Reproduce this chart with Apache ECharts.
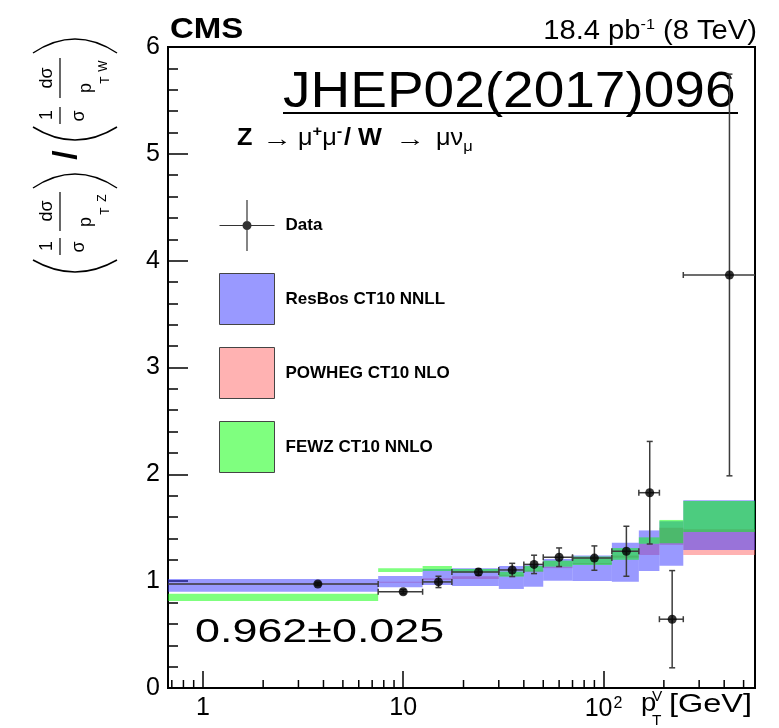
<!DOCTYPE html>
<html>
<head>
<meta charset="utf-8">
<script src="https://cdn.jsdelivr.net/npm/echarts@6/dist/echarts.min.js"></script>
<style>
  html, body { margin: 0; padding: 0; background: #fff; }
  #chart { width: 779px; height: 728px; }
</style>
</head>
<body>
<div id="chart"></div>
<script>
// pT bins [GeV]
var binLo = [0, 7.5, 12.5, 17.5, 30, 40, 50, 70, 110, 150, 190, 250];
var binHi = [7.5, 12.5, 17.5, 30, 40, 50, 70, 110, 150, 190, 250, 600];
var binCenter = [3.75, 10, 15, 23.75, 35, 45, 60, 90, 130, 170, 220, 425];

// Measured Z/W normalised ratio and its uncertainty
var dataRatio = [0.974, 0.901, 0.993, 1.085, 1.105, 1.157, 1.224, 1.216, 1.28, 1.828, 0.644, 3.866];
var dataErr   = [0.015, 0.02, 0.053, 0.03, 0.062, 0.086, 0.087, 0.114, 0.234, 0.48, 0.455, 1.88];

// Theory uncertainty bands (low, high)
var resbosLo = [0.90, 0.943, 0.964, 0.955, 0.927, 0.948, 1.004, 1.002, 0.995, 1.095, 1.145, 1.292];
var resbosHi = [1.02, 1.048, 1.114, 1.12, 1.142, 1.149, 1.208, 1.24, 1.36, 1.475, 1.56, 1.757];
var powhegLo = [0.968, 0.985, 1.011, 1.02, 1.05, 1.09, 1.122, 1.16, 1.22, 1.245, 1.34, 1.245];
var powhegHi = [0.978, 0.995, 1.027, 1.045, 1.06, 1.10, 1.135, 1.17, 1.24, 1.35, 1.50, 1.486];
var fewzLo   = [0.815, 1.086, 1.095, 1.08, 1.042, 1.089, 1.136, 1.152, 1.20, 1.35, 1.355, 1.46];
var fewzHi   = [0.883, 1.12, 1.142, 1.115, 1.089, 1.142, 1.192, 1.23, 1.31, 1.41, 1.573, 1.75];

// Axis settings
var X_MIN = 0.67, X_MAX = 570;
var Y_MIN = 0, Y_MAX = 6;
var xMinorTicks = [0.7, 0.8, 0.9, 2, 3, 4, 5, 6, 7, 8, 9, 20, 30, 40, 50, 60, 70, 80, 90, 200, 300, 400, 500];

var FONT = "'Liberation Sans', Arial, Helvetica, sans-serif";

var chart = echarts.init(document.getElementById('chart'), null, { renderer: 'canvas' });

function clampX(v) { return Math.min(Math.max(v, X_MIN), X_MAX); }

function bandSeries(name, lo, hi, color) {
  return {
    type: 'custom',
    name: name,
    coordinateSystem: 'cartesian2d',
    silent: true,
    clip: true,
    itemStyle: { color: color },
    encode: { x: [0, 1], y: [2, 3] },
    data: binLo.map(function (b, i) { return [clampX(b), clampX(binHi[i]), lo[i], hi[i]]; }),
    renderItem: function (params, api) {
      var p0 = api.coord([api.value(0), api.value(3)]);
      var p1 = api.coord([api.value(1), api.value(2)]);
      return {
        type: 'rect',
        shape: { x: p0[0], y: p0[1], width: p1[0] - p0[0], height: p1[1] - p0[1] },
        style: { fill: color }
      };
    }
  };
}

var errColor = '#3c3c3c';
var errSeries = {
  type: 'custom',
  name: 'errors',
  coordinateSystem: 'cartesian2d',
  silent: true,
  clip: true,
  z: 5,
  encode: { x: 0, y: 1 },
  data: binCenter.map(function (x, i) {
    return [x, dataRatio[i], dataErr[i], binLo[i], binHi[i]];
  }),
  renderItem: function (params, api) {
    var x = api.value(0), y = api.value(1), e = api.value(2);
    var lo = api.value(3), hi = api.value(4);
    var c = api.coord([x, y]);
    var pl = api.coord([clampX(lo), y]);
    var ph = api.coord([clampX(hi), y]);
    var pt = api.coord([x, y + e]);
    var pb = api.coord([x, y - e]);
    var st = { stroke: errColor, lineWidth: 1.5 };
    var cap = 3;
    var children = [
      { type: 'line', shape: { x1: pl[0], y1: c[1], x2: ph[0], y2: c[1] }, style: st },
      { type: 'line', shape: { x1: c[0], y1: pt[1], x2: c[0], y2: pb[1] }, style: st },
      { type: 'line', shape: { x1: c[0] - cap, y1: pt[1], x2: c[0] + cap, y2: pt[1] }, style: st },
      { type: 'line', shape: { x1: c[0] - cap, y1: pb[1], x2: c[0] + cap, y2: pb[1] }, style: st }
    ];
    if (lo > X_MIN) {
      children.push({ type: 'line', shape: { x1: pl[0], y1: c[1] - cap, x2: pl[0], y2: c[1] + cap }, style: st });
    }
    if (hi < X_MAX) {
      children.push({ type: 'line', shape: { x1: ph[0], y1: c[1] - cap, x2: ph[0], y2: c[1] + cap }, style: st });
    }
    return { type: 'group', children: children };
  }
};

var minorTickSeries = {
  type: 'custom',
  name: 'xminor',
  coordinateSystem: 'cartesian2d',
  silent: true,
  z: 10,
  encode: { x: 0, y: 1 },
  data: xMinorTicks.map(function (v) { return [v, Y_MIN]; }),
  renderItem: function (params, api) {
    var p = api.coord([api.value(0), api.value(1)]);
    return {
      type: 'line',
      shape: { x1: p[0], y1: p[1], x2: p[0], y2: p[1] - 8 },
      style: { stroke: '#000', lineWidth: 1.5 }
    };
  }
};

var dataIcon = 'path://M0 24.9H55V26.1H0Z M26.9 0H28.1V51H26.9Z M32 25.5A4.5 4.5 0 1 1 23 25.5A4.5 4.5 0 1 1 32 25.5Z';

function rotText(text, x, y, size, weight) {
  return {
    type: 'text', x: x, y: y, rotation: Math.PI / 2, silent: true,
    style: {
      text: text, font: (weight || 'normal') + ' ' + size + 'px ' + FONT, fill: '#000',
      align: 'center', verticalAlign: 'middle', textAlign: 'center', textVerticalAlign: 'middle'
    }
  };
}
function vbar(x, y1, y2) {
  return { type: 'line', silent: true, shape: { x1: x, y1: y1, x2: x, y2: y2 }, style: { stroke: '#000', lineWidth: 1.2 } };
}
function paren(yEnd, yApex) {
  return {
    type: 'bezierCurve', silent: true,
    shape: { x1: 33, y1: yEnd, x2: 117, y2: yEnd, cpx1: 75, cpy1: 2 * yApex - yEnd },
    style: { stroke: '#000', lineWidth: 1.5, fill: null }
  };
}
function plainText(text, x, y, size, weight, align, scaleX) {
  return {
    type: 'text', x: x, y: y, silent: true, scaleX: scaleX || 1,
    style: {
      text: text, font: (weight || 'normal') + ' ' + size + 'px ' + FONT, fill: '#000',
      align: align || 'left', verticalAlign: 'middle', textAlign: align || 'left', textVerticalAlign: 'middle'
    }
  };
}
var scriptRich = {
  n: { fontSize: 23, fontFamily: FONT, lineHeight: 30 },
  sup: { fontSize: 15, fontWeight: 'bold', fontFamily: FONT, verticalAlign: 'top', lineHeight: 30, padding: [0, 0, 12, 0] },
  sub: { fontSize: 15, fontFamily: FONT, verticalAlign: 'bottom', lineHeight: 30, padding: [12, 0, 0, 0] }
};
function richText(text, x, y, scaleX) {
  return {
    type: 'text', x: x, y: y, silent: true, scaleX: scaleX || 1,
    style: {
      text: text, align: 'left', verticalAlign: 'middle', textAlign: 'left', textVerticalAlign: 'middle',
      font: 'normal 23px ' + FONT, fill: '#000', rich: scriptRich
    }
  };
}

var graphics = [
  // header
  plainText('CMS', 170, 30, 30, 'bold', 'left', 1.1),
  {
    type: 'text', x: 757, y: 32, silent: true, scaleX: 1.08,
    style: {
      text: '18.4 pb{sup|-1} (8 TeV)', align: 'right', verticalAlign: 'middle',
      textAlign: 'right', textVerticalAlign: 'middle',
      font: 'normal 27px ' + FONT, fill: '#000',
      rich: {
        sup: { fontSize: 15, fontFamily: FONT, verticalAlign: 'top', lineHeight: 30, padding: [0, 0, 10, 0] }
      }
    }
  },
  plainText('JHEP02(2017)096', 283, 93, 50, 'normal', 'left', 1.1),
  { type: 'line', silent: true, shape: { x1: 283, y1: 113, x2: 738, y2: 113 }, style: { stroke: '#000', lineWidth: 2 } },

  // process label: Z → μ⁺μ⁻ / W → μν_μ
  plainText('Z', 237, 139, 23, 'bold', 'left', 1.1),
  plainText('\u2192', 262, 140, 23, 'normal', 'left', 1.3),
  richText('{n|\u03bc}{sup|+}{n|\u03bc}{sup|-}', 298, 139, 1.1),
  plainText('/ W', 344, 139, 23, 'bold', 'left', 1.1),
  plainText('\u2192', 395, 140, 23, 'normal', 'left', 1.3),
  richText('{n|\u03bc\u03bd}{sub|\u03bc}', 436, 139, 1.1),

  plainText('0.962\u00b10.025', 195, 633, 34, 'normal', 'left', 1.32),

  // x-axis title
  plainText('p', 641, 704, 25, 'normal', 'left', 1.1),
  plainText('V', 652, 697, 14, 'normal', 'left', 1.1),
  plainText('T', 652, 721, 14, 'normal', 'left', 1.1),
  plainText('[GeV]', 752, 705, 25, 'normal', 'right', 1.3),

  // y-axis title: (1/σ dσ/p_T^Z) / (1/σ dσ/p_T^W)
  paren(260, 272),
  rotText('1', 47, 246, 18), vbar(60, 238, 255), rotText('\u03c3', 79, 247, 18),
  rotText('d\u03c3', 47, 211, 18), vbar(60, 192, 231), rotText('p', 86, 222, 18),
  rotText('Z', 103, 198, 12), rotText('T', 106, 211, 12),
  paren(188, 174),
  rotText('/', 67, 155, 34, 'bold'),
  paren(127, 140),
  rotText('1', 47, 115, 18), vbar(60, 107, 124), rotText('\u03c3', 79, 116, 18),
  rotText('d\u03c3', 47, 78, 18), vbar(60, 58, 98), rotText('p', 86, 88, 18),
  rotText('W', 104, 66, 12), rotText('T', 106, 80, 12),
  paren(53, 39)
];

var option = {
  animation: false,
  backgroundColor: '#fff',
  grid: {
    left: 168, right: 24, top: 47, bottom: 40,
    show: true, borderColor: '#000', borderWidth: 2, backgroundColor: 'transparent'
  },
  legend: {
    orient: 'vertical', left: 214, top: 195, padding: 5,
    itemWidth: 55, itemHeight: 51, itemGap: 22,
    selectedMode: false,
    textStyle: { fontFamily: FONT, fontSize: 17, fontWeight: 'bold', color: '#000', padding: [0, 0, 0, 6] },
    data: [
      { name: 'Data', icon: dataIcon, itemStyle: { color: '#000', borderWidth: 0 } },
      { name: 'ResBos CT10 NNLL', icon: 'rect', itemStyle: { borderColor: '#444', borderWidth: 1 } },
      { name: 'POWHEG CT10 NLO', icon: 'rect', itemStyle: { borderColor: '#444', borderWidth: 1 } },
      { name: 'FEWZ CT10 NNLO', icon: 'rect', itemStyle: { borderColor: '#444', borderWidth: 1 } }
    ]
  },
  xAxis: {
    type: 'log', logBase: 10, min: X_MIN, max: X_MAX,
    axisLine: { show: true, lineStyle: { color: '#000', width: 2 } },
    axisTick: { show: true, inside: true, length: 17, lineStyle: { color: '#000', width: 1.5 } },
    splitLine: { show: false },
    axisLabel: {
      color: '#000', fontFamily: FONT, fontSize: 25, margin: 8,
      showMinLabel: false, showMaxLabel: false,
      formatter: function (v) {
        var l = Math.log(v) / Math.LN10, r = Math.round(l);
        if (Math.abs(l - r) > 1e-6) return '';
        if (r === 0) return '1';
        if (r === 1) return '10';
        return '10{sup|' + r + '}';
      },
      rich: { sup: { fontSize: 16, fontFamily: FONT, color: '#000', verticalAlign: 'top', padding: [0, 0, 10, 1] } }
    }
  },
  yAxis: {
    type: 'value', min: Y_MIN, max: Y_MAX, interval: 1,
    axisLine: { show: true, lineStyle: { color: '#000', width: 2 } },
    axisTick: { show: true, inside: true, length: 20, lineStyle: { color: '#000', width: 1.5 } },
    minorTick: { show: true, splitNumber: 5, length: 10, lineStyle: { color: '#000', width: 1.5 } },
    splitLine: { show: false },
    axisLabel: { color: '#000', fontFamily: FONT, fontSize: 25, margin: 8 }
  },
  series: [
    bandSeries('POWHEG CT10 NLO', powhegLo, powhegHi, 'rgba(255,102,102,0.5)'),
    bandSeries('ResBos CT10 NNLL', resbosLo, resbosHi, 'rgba(51,51,255,0.5)'),
    bandSeries('FEWZ CT10 NNLO', fewzLo, fewzHi, 'rgba(0,255,0,0.5)'),
    errSeries,
    {
      type: 'scatter', name: 'Data', z: 6, silent: true,
      symbol: 'circle', symbolSize: 9,
      itemStyle: { color: '#000' },
      data: binCenter.map(function (x, i) { return [x, dataRatio[i]]; })
    },
    minorTickSeries
  ],
  graphic: graphics
};

chart.setOption(option);
</script>
</body>
</html>
